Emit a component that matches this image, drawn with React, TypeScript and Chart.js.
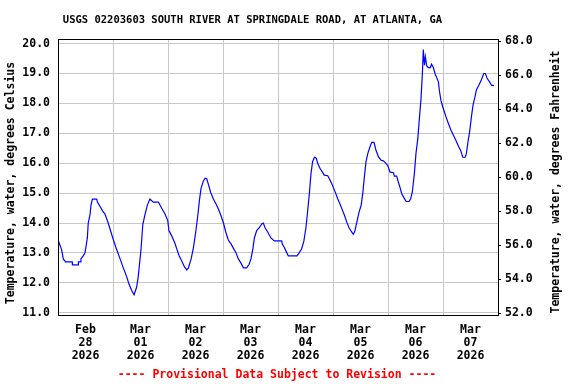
import React, { useEffect, useRef } from 'react';
import { Chart, registerables } from 'chart.js';

Chart.register(...registerables);

const TITLE = 'USGS 02203603 SOUTH RIVER AT SPRINGDALE ROAD, AT ATLANTA, GA';
const Y_LEFT_TITLE = 'Temperature, water, degrees Celsius';
const Y_RIGHT_TITLE = 'Temperature, water, degrees Fahrenheit';
const FOOTER = '---- Provisional Data Subject to Revision ----';

// Day labels, centred at noon of each day (hours since Feb 28 2026 00:00)
const dayLabels: string[][] = [
  ['Feb', '28', '2026'],
  ['Mar', '01', '2026'],
  ['Mar', '02', '2026'],
  ['Mar', '03', '2026'],
  ['Mar', '04', '2026'],
  ['Mar', '05', '2026'],
  ['Mar', '06', '2026'],
  ['Mar', '07', '2026'],
];

const leftTicks = [11, 12, 13, 14, 15, 16, 17, 18, 19, 20];
const rightTicks = [52, 54, 56, 58, 60, 62, 64, 66, 68];

// Hours since Feb 28 2026 00:00
const hours = [
  0.2, 1.6, 2.3, 3.3, 6.2, 6.3, 8.8, 8.9, 9.9, 10.0, 11.0, 11.8, 12.8, 13.2, 14.0, 14.4, 15.0, 16.9, 17.2, 18.0,
  19.5, 20.5, 21.9, 23.7, 25.2, 27.1, 28.5, 30.0, 31.0, 32.1, 33.2, 34.3, 35.0, 36.2, 37.0, 38.0, 39.0, 40.1, 41.6, 43.8,
  45.2, 46.7, 47.9, 48.4, 49.6, 50.9, 51.9, 52.9, 54.0, 55.2, 56.2, 56.9, 58.1, 59.1, 60.1, 61.0, 61.7, 62.4, 63.4, 64.2,
  64.9, 65.6, 66.6, 67.8, 68.8, 70.0, 71.1, 72.2, 73.2, 74.3, 75.5, 76.5, 77.7, 78.7, 79.9, 80.9, 82.3, 83.4, 84.2, 85.0,
  85.7, 86.7, 87.9, 88.9, 89.6, 90.3, 91.5, 92.9, 94.4, 97.6, 97.9, 98.8, 99.5, 100.5, 104.3, 105.2, 106.3, 107.3, 108.2, 108.9,
  109.7, 110.4, 111.1, 111.9, 112.7, 113.3, 114.3, 115.4, 116.2, 117.7, 118.7, 119.7, 120.9, 122.0, 123.1, 124.1, 125.0, 126.0, 127.0, 127.9,
  128.9, 129.6, 130.4, 131.4, 132.3, 133.0, 133.7, 134.4, 135.2, 136.2, 136.9, 137.9, 138.7, 139.8, 141.0, 142.0, 142.7, 143.9, 144.9, 146.4,
  146.8, 147.8, 148.5, 149.2, 150.0, 151.0, 151.9, 153.2, 153.9, 154.6, 155.5, 156.2, 157.0, 157.7, 158.4, 159.0, 159.4, 159.9, 160.3, 160.9,
  161.6, 162.5, 163.0, 163.8, 164.5, 165.2, 166.0, 166.4, 167.1, 167.9, 168.6, 169.3, 170.4, 171.4, 172.6, 173.6, 174.8, 175.8, 176.6, 177.7,
  178.2, 178.9, 179.7, 180.4, 181.1, 181.9, 182.6, 183.6, 184.8, 185.8, 186.5, 187.3, 188.3, 189.2, 190.2,
];

// Water temperature, degrees Celsius
const tempC = [
  13.4, 13.1, 12.8, 12.7, 12.7, 12.6, 12.6, 12.7, 12.7, 12.8, 12.9, 13.0, 13.5, 14.0, 14.3, 14.6, 14.8, 14.8, 14.7, 14.6,
  14.4, 14.3, 14.0, 13.55, 13.2, 12.8, 12.5, 12.2, 11.95, 11.75, 11.6, 11.85, 12.2, 13.1, 13.95, 14.3, 14.6, 14.8, 14.7, 14.7,
  14.5, 14.3, 14.08, 13.75, 13.57, 13.35, 13.12, 12.9, 12.73, 12.53, 12.43, 12.5, 12.8, 13.18, 13.7, 14.25, 14.75, 15.15, 15.4, 15.5,
  15.48, 15.3, 15.03, 14.8, 14.66, 14.47, 14.25, 14.0, 13.7, 13.43, 13.3, 13.16, 13.0, 12.8, 12.65, 12.5, 12.5, 12.62, 12.8, 13.12,
  13.5, 13.75, 13.85, 13.97, 14.0, 13.85, 13.7, 13.5, 13.4, 13.4, 13.3, 13.17, 13.06, 12.9, 12.9, 13.0, 13.13, 13.4, 13.85, 14.37,
  15.0, 15.66, 16.05, 16.2, 16.17, 16.0, 15.83, 15.7, 15.6, 15.58, 15.44, 15.27, 15.05, 14.82, 14.63, 14.43, 14.26, 14.03, 13.84, 13.73,
  13.62, 13.75, 14.03, 14.37, 14.6, 15.0, 15.55, 16.05, 16.33, 16.56, 16.7, 16.7, 16.45, 16.22, 16.1, 16.08, 16.03, 15.92, 15.7, 15.68,
  15.57, 15.57, 15.37, 15.2, 14.98, 14.84, 14.72, 14.72, 14.81, 15.03, 15.65, 16.32, 16.82, 17.5, 18.16, 19.0, 19.8, 19.28, 19.56, 19.25,
  19.2, 19.2, 19.31, 19.2, 19.0, 18.87, 18.72, 18.44, 18.1, 17.88, 17.72, 17.55, 17.32, 17.12, 16.93, 16.77, 16.56, 16.41, 16.2, 16.2,
  16.32, 16.71, 17.1, 17.55, 17.94, 18.2, 18.46, 18.6, 18.8, 19.0, 19.0, 18.83, 18.72, 18.6, 18.6,
];

const MONO = '"DejaVu Sans Mono", monospace';
const GRID = '#c8c8c8';

const textPlugin = {
  id: 'usgsText',
  afterDraw(chart: any) {
    const { ctx, chartArea: a } = chart;
    ctx.save();
    // frame
    ctx.strokeStyle = '#000';
    ctx.lineWidth = 1;
    ctx.strokeRect(a.left + 0.5, a.top + 0.5, a.right - a.left, a.bottom - a.top - 1);

    ctx.fillStyle = '#000';
    ctx.textAlign = 'center';
    ctx.textBaseline = 'middle';
    ctx.font = `bold 10.5px ${MONO}`;
    ctx.fillText(TITLE, 252.5, 20.5);

    ctx.font = `bold 11.5px ${MONO}`;
    ctx.save();
    ctx.translate(11.5, 183);
    ctx.rotate(-Math.PI / 2);
    ctx.fillText(Y_LEFT_TITLE, 0, 0);
    ctx.restore();

    ctx.save();
    ctx.translate(556.5, 182);
    ctx.rotate(-Math.PI / 2);
    ctx.fillText(Y_RIGHT_TITLE, 0, 0);
    ctx.restore();

    ctx.fillStyle = '#ff0000';
    ctx.fillText(FOOTER, 277, 375);
    ctx.restore();
  },
};

export default function App() {
  const ref = useRef<HTMLCanvasElement | null>(null);

  useEffect(() => {
    if (!ref.current) return;
    const points = hours.map((h, i) => ({ x: h, y: tempC[i] }));
    const xTickValues: number[] = [];
    for (let h = 0; h <= 192; h += 12) xTickValues.push(h);

    const chart = new Chart(ref.current, {
      type: 'line',
      data: {
        datasets: [
          {
            data: points,
            borderColor: '#0000ff',
            borderWidth: 1.2,
            pointRadius: 0,
            tension: 0,
            fill: false,
            yAxisID: 'y',
          },
        ],
      },
      options: {
        animation: false,
        responsive: false,
        maintainAspectRatio: false,
        layout: { padding: { top: 39, left: 0, right: 0, bottom: 0 } },
        plugins: {
          legend: { display: false },
          tooltip: { enabled: false },
          title: { display: false },
        },
        scales: {
          x: {
            type: 'linear',
            position: 'bottom',
            min: 0,
            max: 192,
            afterBuildTicks: (s: any) => {
              s.ticks = xTickValues.map((v) => ({ value: v }));
            },
            afterFit: (s: any) => {
              s.height = 68;
            },
            border: { display: false },
            grid: {
              drawTicks: false,
              color: (c: any) => (c.tick && c.tick.value % 24 === 0 ? GRID : 'rgba(0,0,0,0)'),
              lineWidth: 1,
            },
            ticks: {
              autoSkip: false,
              maxRotation: 0,
              padding: 8,
              color: '#000',
              font: { family: MONO, weight: 'bold', size: 11.5, lineHeight: 1.12 },
              callback: (v: any) => {
                const n = Number(v);
                if (n % 24 === 12) return dayLabels[(n - 12) / 24] || '';
                return '';
              },
            },
          },
          y: {
            type: 'linear',
            position: 'left',
            min: 10.89,
            max: 20.154,
            afterBuildTicks: (s: any) => {
              s.ticks = leftTicks.map((v) => ({ value: v }));
            },
            afterFit: (s: any) => {
              s.width = 58;
            },
            border: { display: false },
            grid: { drawTicks: false, color: GRID, lineWidth: 1 },
            ticks: {
              padding: 8,
              color: '#000',
              font: { family: MONO, weight: 'bold', size: 11.5 },
              callback: (v: any) => Number(v).toFixed(1),
            },
          },
          y2: {
            type: 'linear',
            position: 'right',
            min: 51.824,
            max: 68.118,
            afterBuildTicks: (s: any) => {
              s.ticks = rightTicks.map((v) => ({ value: v }));
            },
            afterFit: (s: any) => {
              s.width = 78;
            },
            border: { display: false },
            grid: {
              drawOnChartArea: false,
              drawTicks: true,
              tickLength: 3,
              color: '#000',
              tickColor: '#000',
            },
            ticks: {
              padding: 4,
              color: '#000',
              font: { family: MONO, weight: 'bold', size: 11.5 },
              callback: (v: any) => Number(v).toFixed(1),
            },
          },
        },
      } as any,
      plugins: [textPlugin],
    });
    return () => chart.destroy();
  }, []);

  return (
    <div style={{ position: 'absolute', left: 0, top: 0, width: 576, height: 384, background: '#fff' }}>
      <canvas ref={ref} width={576} height={384} />
    </div>
  );
}
